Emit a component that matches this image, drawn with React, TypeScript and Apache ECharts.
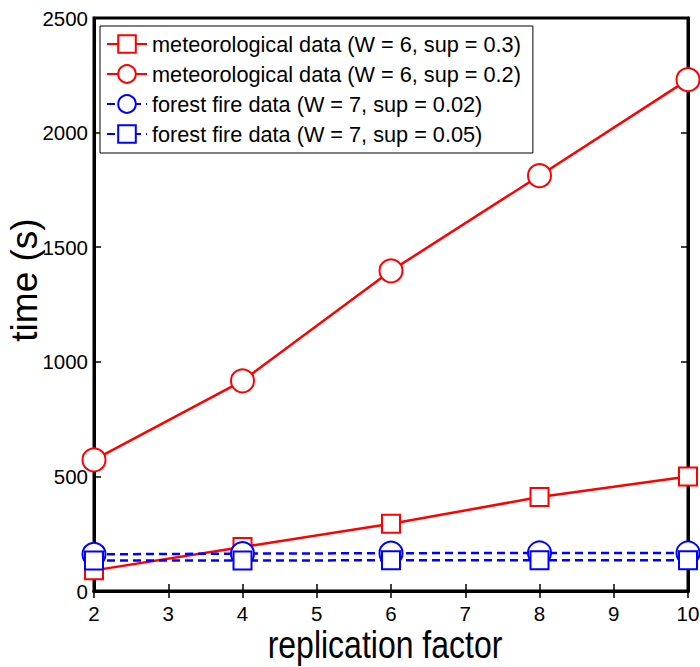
import React, { useEffect, useRef } from "react";
import * as echarts from "echarts";

const xValues = [2, 4, 6, 8, 10];
const met03 = [90, 192, 293, 410, 500];
const met02 = [572, 917, 1397, 1812, 2231];
const ff002 = [160, 163, 165, 166, 166];
const ff005 = [133, 133, 134, 134, 134];
const seriesNames = [
  "meteorological data (W = 6, sup = 0.3)",
  "meteorological data (W = 6, sup = 0.2)",
  "forest fire data (W = 7, sup = 0.02)",
  "forest fire data (W = 7, sup = 0.05)",
];
const xTitle = "replication factor";
const yTitle = "time (s)";

export default function App() {
  const ref = useRef<HTMLDivElement>(null);
  useEffect(() => {
    if (!ref.current) return;
    const chart = echarts.init(ref.current, undefined, { renderer: "svg" });
    const font = "Liberation Sans, Arial, Helvetica, sans-serif";
    const mk = (name: string, data: number[], color: string, symbol: string, size: number, dashed: boolean) => ({
      name,
      type: "line",
      data: xValues.map((x, i) => [x, data[i]]),
      symbol,
      symbolSize: size,
      showAllSymbol: true,
      lineStyle: { color, width: 2.5, type: dashed ? [8, 5] : "solid" },
      itemStyle: { color, borderColor: color, borderWidth: 2.5 },
      emphasis: { disabled: true },
    });
    const tickStyle = { show: true, inside: true, length: 7, lineStyle: { color: "#000", width: 1.5 } };
    chart.setOption({
      animation: false,
      backgroundColor: "#fff",
      textStyle: { fontFamily: font },
      grid: {
        left: 94, right: 12, top: 18, bottom: 76,
        containLabel: false, outerBoundsMode: "none",
        show: true, borderColor: "#000", borderWidth: 3, backgroundColor: "transparent",
      },
      legend: {
        left: 100,
        top: 26,
        orient: "vertical",
        backgroundColor: "#fff",
        borderColor: "#000",
        borderWidth: 1,
        borderRadius: 0,
        padding: [7, 12, 8, 6],
        itemGap: 8,
        itemWidth: 40,
        itemHeight: 22,
        data: seriesNames,
        textStyle: { fontSize: 21.7, color: "#000", fontFamily: font },
      },
      graphic: [
        {
          type: "text", x: 385, y: 644, scaleY: 1.2,
          style: { text: xTitle, fontSize: 32, fontFamily: font, fill: "#000", align: "center", verticalAlign: "middle" },
        },
        {
          type: "text", x: 24, y: 280, rotation: Math.PI / 2,
          style: { text: yTitle, fontSize: 37, fontFamily: font, fill: "#000", align: "center", verticalAlign: "middle" },
        },
      ],
      xAxis: [
        {
          type: "value", min: 2, max: 10, interval: 1,
          axisLine: { show: true, lineStyle: { color: "#000", width: 3 } },
          axisTick: tickStyle,
          axisLabel: { fontSize: 20.5, color: "#000", margin: 12, fontFamily: font, formatter: (v: number) => String(v) },
          splitLine: { show: false },
        },
        {
          type: "value", min: 2, max: 10, interval: 1, position: "top",
          axisLine: { show: true, lineStyle: { color: "#000", width: 3 } },
          axisTick: tickStyle, axisLabel: { show: false }, splitLine: { show: false },
        },
      ],
      yAxis: [
        {
          type: "value", min: 0, max: 2500, interval: 500,
          axisLine: { show: true, lineStyle: { color: "#000", width: 3 } },
          axisTick: tickStyle,
          axisLabel: { fontSize: 20.5, color: "#000", margin: 6, fontFamily: font, formatter: (v: number) => String(v) },
          splitLine: { show: false },
        },
        {
          type: "value", min: 0, max: 2500, interval: 500, position: "right",
          axisLine: { show: true, lineStyle: { color: "#000", width: 3 } },
          axisTick: tickStyle, axisLabel: { show: false }, splitLine: { show: false },
        },
      ],
      series: [
        mk(seriesNames[0], met03, "#ff0000", "emptyRect", 18, false),
        mk(seriesNames[1], met02, "#ff0000", "emptyCircle", 23, false),
        mk(seriesNames[2], ff002, "#0000ff", "emptyCircle", 23, true),
        mk(seriesNames[3], ff005, "#0000ff", "emptyRect", 18, true),
      ],
    });
    return () => chart.dispose();
  }, []);
  return <div ref={ref} style={{ width: 700, height: 667, position: "absolute", left: 0, top: 0 }} />;
}
